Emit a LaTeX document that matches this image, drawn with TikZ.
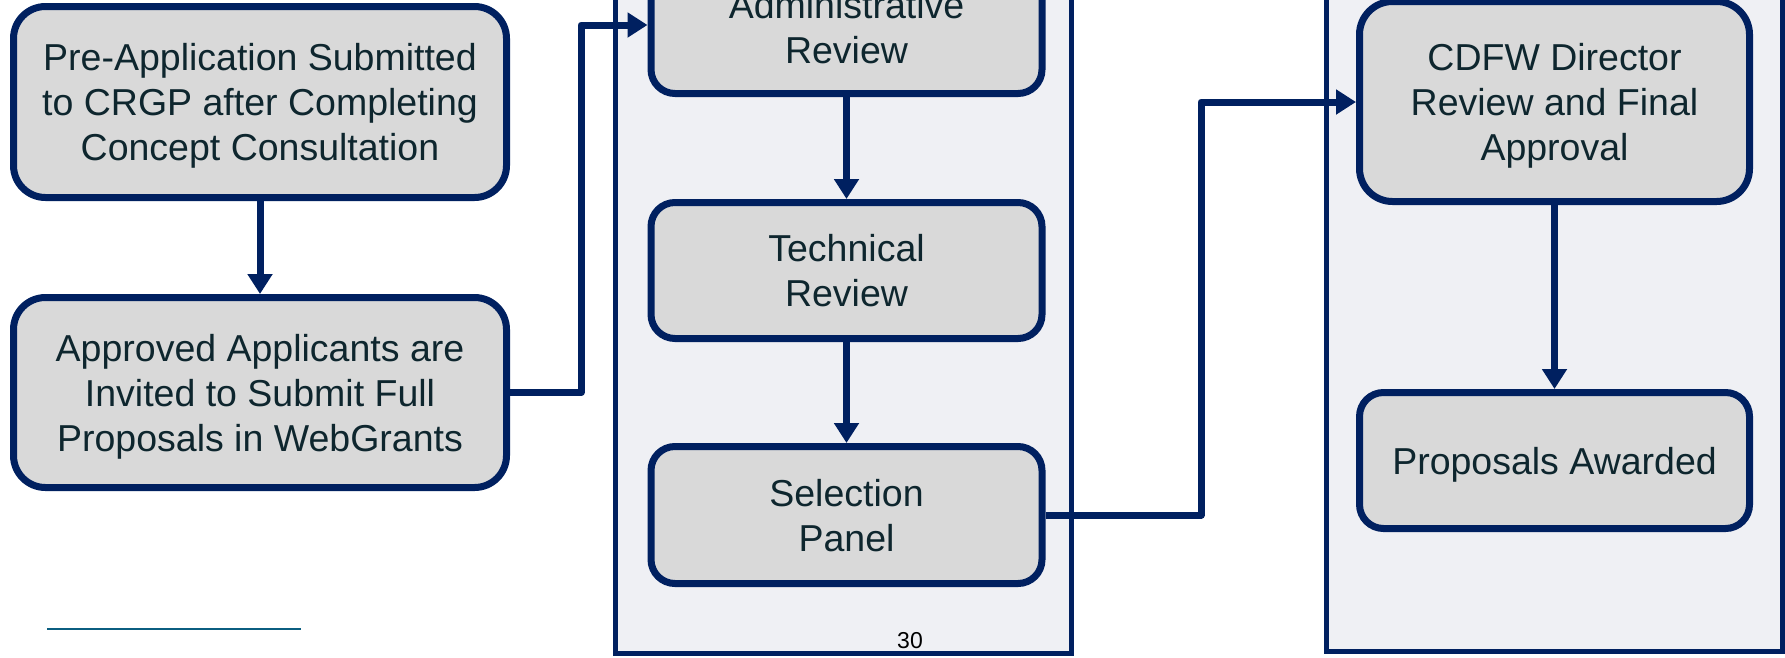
\documentclass[tikz,border=0pt]{standalone}
\usepackage{fontspec}
\setmainfont{Liberation Sans}
\usetikzlibrary{arrows.meta}

\definecolor{navy}{HTML}{002060}
\definecolor{boxgray}{HTML}{D9D9D9}
\definecolor{panelfill}{HTML}{EFF0F4}
\definecolor{inktext}{HTML}{0E262E}
\definecolor{ruleteal}{HTML}{0B5E80}

% invisible rules that centre each label on its capital letters
\newcommand\capsup{\rule{0pt}{36pt}}
\newcommand\capsdown{\rule[-8.6pt]{0pt}{0pt}}

\tikzset{
  stepbox/.style={draw=navy, line width=7pt, fill=boxgray, rounded corners=#1,
    text=inktext, align=center, inner sep=0pt,
    font=\fontsize{37.5}{45}\selectfont},
  stepbox/.default=24pt,
  panel/.style={draw=navy, line width=5pt, fill=panelfill},
  conn/.style={draw=navy, line width=7pt, line join=round,
    -{Triangle[length=20pt,width=24pt]}},
}

\begin{document}
\begin{tikzpicture}[x=1pt, y=-1pt]
\useasboundingbox (0,0) rectangle (1785,657);
\begin{scope}
\clip (0,0) rectangle (1785,657);

% stage panels
\draw[panel] (615.5,-30) rectangle (1071.5,653.5);
\draw[panel] (1326.5,-30) rectangle (1782.5,651.5);

% left column
\node[stepbox=32pt, minimum width=493pt, minimum height=191pt] (pre) at (260,102)
  {\capsup Pre-Application Submitted\\to CRGP after Completing\\Concept Consultation\capsdown};
\node[stepbox=32pt, minimum width=493pt, minimum height=190pt] (inv) at (260,392.5)
  {\capsup Approved Applicants are\\Invited to Submit Full\\Proposals in WebGrants\capsdown};

% middle column
\node[stepbox, minimum width=391pt, minimum height=133pt] (adm) at (846.5,27)
  {\capsup Administrative\\Review\capsdown};
\node[stepbox, minimum width=391pt, minimum height=136pt] (tech) at (846.5,270.5)
  {\capsup Technical\\Review\capsdown};
\node[stepbox, minimum width=391pt, minimum height=137pt] (sel) at (846.5,515)
  {\capsup Selection\\Panel\capsdown};

% right column
\node[stepbox=33pt, minimum width=390pt, minimum height=200pt] (dir) at (1554.5,101.5)
  {\capsup CDFW Director\\Review and Final\\Approval\capsdown};
\node[stepbox, minimum width=390pt, minimum height=136pt] (awd) at (1554.5,460.5)
  {\capsup Proposals Awarded\capsdown};

% connectors
\draw[conn] (pre.south) -- (inv.north);
\draw[conn] (adm.south) -- (tech.north);
\draw[conn] (tech.south) -- (sel.north);
\draw[conn] (dir.south) -- (awd.north);

\coordinate (ja) at (581,392.5);
\coordinate (jb) at (581,25);
\draw[conn] (inv.east) -- (ja) -- (jb) -- (jb -| adm.west);

\coordinate (jc) at (1201,515);
\coordinate (jd) at (1201,102);
\draw[conn] (sel.east) -- (jc) -- (jd) -- (jd -| dir.west);

% footnote rule and page number
\coordinate (ra) at (47,629);
\coordinate (rb) at (301,629);
\draw[ruleteal, line width=2pt] (ra) -- (rb);
\node[anchor=base, inner sep=0pt, font=\fontsize{23}{27}\selectfont] (pg) at (910,648) {30};
\end{scope}
\end{tikzpicture}
\end{document}
